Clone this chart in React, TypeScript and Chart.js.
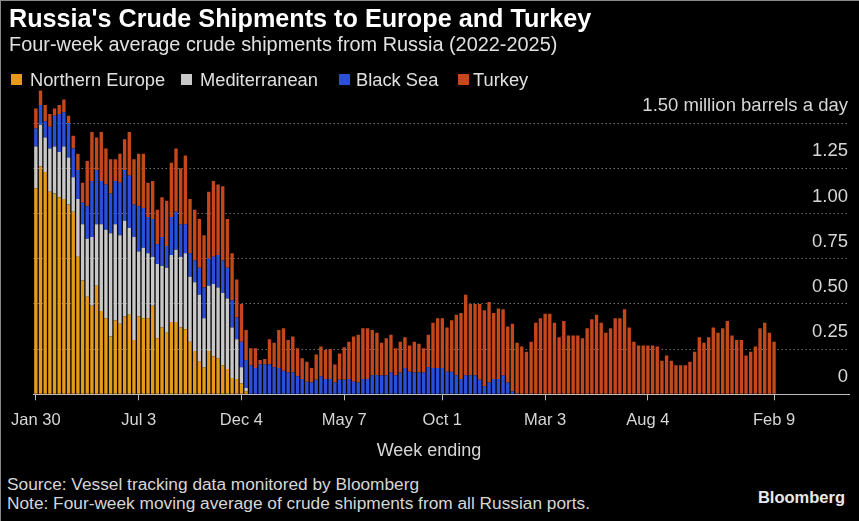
import { useEffect, useRef } from "react";
import { Chart, registerables } from "chart.js";

Chart.register(...registerables);

// Week index 0 = Jan 30 2022 ... 158 = Feb 9 2025 (weekly)
const tickIndices = [0, 22, 44, 66, 87, 109, 131, 158];
const tickLabels = ["Jan 30", "Jul 3", "Dec 4", "May 7", "Oct 1", "Mar 3", "Aug 4", "Feb 9"];
const yTickValues = [0, 0.25, 0.5, 0.75, 1.0, 1.25, 1.5];

const seriesNames = ["Northern Europe", "Mediterranean", "Black Sea", "Turkey"];
const seriesColors = ["#e69a1c", "#c8c8c8", "#2b4fd8", "#c4481c"];

// million barrels a day, four-week average
const northernEurope = [
  1.14, 1.26, 1.23, 1.12, 1.11, 1.09, 1.08, 1.05, 1.01, 0.76,
  0.63, 0.54, 0.49, 0.60, 0.46, 0.42, 0.32, 0.41, 0.39, 0.43,
  0.44, 0.30, 0.43, 0.42, 0.42, 0.49, 0.31, 0.37, 0.34, 0.40,
  0.40, 0.37, 0.36, 0.29, 0.24, 0.18, 0.15, 0.24, 0.21, 0.20,
  0.16, 0.14, 0.09, 0.085, 0.06, 0.015, 0, 0, 0, 0,
  0, 0, 0, 0, 0, 0, 0, 0, 0, 0,
  0, 0, 0, 0, 0, 0, 0, 0, 0, 0,
  0, 0, 0, 0, 0, 0, 0, 0, 0, 0,
  0, 0, 0, 0, 0, 0, 0, 0, 0, 0,
  0, 0, 0, 0, 0, 0, 0, 0, 0, 0,
  0, 0, 0, 0, 0, 0, 0, 0, 0, 0,
  0, 0, 0, 0, 0, 0, 0, 0, 0, 0,
  0, 0, 0, 0, 0, 0, 0, 0, 0, 0,
  0, 0, 0, 0, 0, 0, 0, 0, 0, 0,
  0, 0, 0, 0, 0, 0, 0, 0, 0, 0,
  0, 0, 0, 0, 0, 0, 0, 0, 0,
];

const mediterranean = [
  0.23, 0.23, 0.19, 0.24, 0.26, 0.25, 0.29, 0.26, 0.19, 0.32,
  0.31, 0.32, 0.38, 0.34, 0.48, 0.49, 0.57, 0.53, 0.49, 0.53,
  0.48, 0.57, 0.36, 0.39, 0.36, 0.27, 0.41, 0.34, 0.36, 0.37,
  0.40, 0.39, 0.42, 0.36, 0.38, 0.37, 0.27, 0.36, 0.40, 0.39,
  0.40, 0.39, 0.28, 0.22, 0.09, 0.02, 0, 0, 0, 0,
  0, 0, 0, 0, 0, 0, 0, 0, 0, 0,
  0, 0, 0, 0, 0, 0, 0, 0, 0, 0,
  0, 0, 0, 0, 0, 0, 0, 0, 0, 0,
  0, 0, 0, 0, 0, 0, 0, 0, 0, 0,
  0, 0, 0, 0, 0, 0, 0, 0, 0, 0,
  0, 0, 0, 0, 0, 0, 0, 0, 0, 0,
  0, 0, 0, 0, 0, 0, 0, 0, 0, 0,
  0, 0, 0, 0, 0, 0, 0, 0, 0, 0,
  0, 0, 0, 0, 0, 0, 0, 0, 0, 0,
  0, 0, 0, 0, 0, 0, 0, 0, 0, 0,
  0, 0, 0, 0, 0, 0, 0, 0, 0,
];

const blackSea = [
  0.10, 0.11, 0.09, 0.12, 0.17, 0.21, 0.19, 0.19, 0.16, 0.16,
  0.12, 0.18, 0.31, 0.30, 0.24, 0.25, 0.22, 0.24, 0.29, 0.28,
  0.29, 0.18, 0.25, 0.22, 0.20, 0.21, 0.11, 0.16, 0.12, 0.21,
  0.21, 0.18, 0.16, 0.13, 0.12, 0.15, 0.17, 0.15, 0.15, 0.18,
  0.18, 0.17, 0.15, 0.12, 0.14, 0.155, 0.16, 0.145, 0.165, 0.165,
  0.165, 0.15, 0.145, 0.13, 0.12, 0.12, 0.10, 0.085, 0.07, 0.065,
  0.08, 0.10, 0.085, 0.085, 0.065, 0.08, 0.08, 0.085, 0.07, 0.065,
  0.085, 0.085, 0.105, 0.105, 0.105, 0.105, 0.12, 0.105, 0.12, 0.145,
  0.125, 0.12, 0.12, 0.12, 0.15, 0.145, 0.145, 0.145, 0.125, 0.125,
  0.105, 0.085, 0.105, 0.105, 0.105, 0.08, 0.045, 0.065, 0.085, 0.085,
  0.105, 0.065, 0.015, 0.005, 0, 0, 0, 0, 0, 0,
  0, 0, 0, 0, 0, 0, 0, 0, 0, 0,
  0, 0, 0, 0, 0, 0, 0, 0, 0, 0,
  0, 0, 0, 0, 0, 0, 0, 0, 0, 0,
  0, 0, 0, 0, 0, 0, 0, 0, 0, 0,
  0, 0, 0, 0, 0, 0, 0, 0, 0,
];

const turkey = [
  0.11, 0.08, 0.09, 0.07, 0.04, 0.05, 0.07, 0.04, 0.07, 0.09,
  0.11, 0.25, 0.27, 0.18, 0.27, 0.20, 0.19, 0.12, 0.16, 0.17,
  0.24, 0.25, 0.29, 0.30, 0.19, 0.21, 0.19, 0.22, 0.25, 0.30,
  0.35, 0.31, 0.38, 0.30, 0.28, 0.27, 0.29, 0.37, 0.42, 0.39,
  0.41, 0.27, 0.26, 0.21, 0.21, 0.165, 0.095, 0.11, 0.025, 0.03,
  0.14, 0.135, 0.21, 0.235, 0.18, 0.20, 0.155, 0.115, 0.11, 0.08,
  0.14, 0.165, 0.16, 0.165, 0.10, 0.145, 0.18, 0.205, 0.25, 0.265,
  0.28, 0.28, 0.25, 0.235, 0.18, 0.205, 0.21, 0.15, 0.17, 0.17,
  0.145, 0.17, 0.16, 0.135, 0.18, 0.25, 0.275, 0.275, 0.245, 0.285,
  0.335, 0.365, 0.445, 0.395, 0.395, 0.42, 0.42, 0.445, 0.365, 0.39,
  0.365, 0.31, 0.375, 0.28, 0.265, 0.235, 0.29, 0.395, 0.42, 0.445,
  0.445, 0.395, 0.315, 0.405, 0.325, 0.325, 0.325, 0.31, 0.365, 0.415,
  0.44, 0.395, 0.34, 0.365, 0.42, 0.42, 0.47, 0.37, 0.29, 0.27,
  0.27, 0.27, 0.27, 0.265, 0.185, 0.215, 0.185, 0.16, 0.16, 0.16,
  0.18, 0.235, 0.315, 0.285, 0.315, 0.37, 0.34, 0.365, 0.405, 0.325,
  0.30, 0.30, 0.215, 0.235, 0.265, 0.365, 0.395, 0.34, 0.29,
];

const FONT = "'Liberation Sans', Arial, sans-serif";

// legend item positions (square left x, text left x)
const legendSquareX = [10, 180, 338, 457];
const legendTextX = [29, 199, 355, 472];

export default function App() {
  const canvasRef = useRef<HTMLCanvasElement>(null);

  useEffect(() => {
    document.body.style.margin = "0";
    document.body.style.background = "#000";
    const series = [northernEurope, mediterranean, blackSea, turkey];
    const chart = new Chart(canvasRef.current as HTMLCanvasElement, {
      type: "bar",
      data: {
        datasets: series.map((arr, k) => ({
          label: seriesNames[k],
          data: arr.map((v, i) => ({ x: i, y: v })),
          backgroundColor: seriesColors[k],
          borderWidth: 0,
          categoryPercentage: 1,
          barPercentage: 0.72,
        })),
      },
      options: {
        animation: false,
        responsive: false,
        devicePixelRatio: 1,
        layout: { padding: { left: 27.65, right: 11, top: 85.9, bottom: 0.9 } },
        plugins: { legend: { display: false }, tooltip: { enabled: false } },
        scales: {
          x: {
            type: "linear",
            stacked: true,
            offset: false,
            min: -0.5,
            max: 174.04,
            afterBuildTicks: (scale: any) => {
              scale.ticks = tickIndices.map((v) => ({ value: v }));
            },
            ticks: {
              autoSkip: false,
              maxRotation: 0,
              color: "#d6d6d6",
              padding: 10,
              font: { family: FONT, size: 16.5 },
              callback: (value: any) => {
                const k = tickIndices.indexOf(Number(value));
                return k >= 0 ? tickLabels[k] : "";
              },
            },
            grid: {
              display: true,
              offset: false,
              drawOnChartArea: false,
              drawTicks: true,
              tickLength: 6,
              color: "#bdbdbd",
            },
            border: { display: true, color: "#bdbdbd", width: 1 },
          },
          y: {
            type: "linear",
            stacked: true,
            position: "right",
            min: 0,
            max: 1.7,
            afterBuildTicks: (scale: any) => {
              scale.ticks = yTickValues.map((v) => ({ value: v }));
            },
            ticks: {
              mirror: true,
              padding: -1,
              labelOffset: -17,
              color: "#d6d6d6",
              font: { family: FONT, size: 18.5 },
              callback: (value: any) => {
                const v = Number(value);
                if (v === 0) return "0";
                if (v === 1.5) return "1.50 million barrels a day";
                return v.toFixed(2);
              },
            },
            grid: {
              drawTicks: false,
              lineWidth: 1,
              color: (ctx: any) =>
                ctx.tick && ctx.tick.value === 0 ? "rgba(0,0,0,0)" : "#707070",
            },
            border: { display: false, dash: [1.5, 2.5] },
          },
        },
      },
    } as any);
    return () => chart.destroy();
  }, []);

  const legendItems = seriesNames.map((name, k) => (
    <div key={name}>
      <span
        style={{
          position: "absolute",
          left: legendSquareX[k],
          top: 73,
          width: 11,
          height: 11,
          background: seriesColors[k],
        }}
      />
      <span
        style={{
          position: "absolute",
          left: legendTextX[k],
          top: 68.5,
          fontSize: 18.3,
          lineHeight: "19px",
          color: "#e0e0e0",
          whiteSpace: "nowrap",
        }}
      >
        {name}
      </span>
    </div>
  ));

  return (
    <div
      style={{
        position: "fixed",
        left: 0,
        top: 0,
        width: 859,
        height: 521,
        background: "#000",
        boxSizing: "border-box",
        borderLeft: "1px solid #8a8a8a",
        borderTop: "1px solid #8a8a8a",
        overflow: "hidden",
        fontFamily: FONT,
      }}
    >
      <canvas
        ref={canvasRef}
        width={859}
        height={440}
        style={{ position: "absolute", left: 0, top: 0, width: 859, height: 440 }}
      />
      <div
        style={{
          position: "absolute",
          left: 8,
          top: 4.5,
          fontSize: 25.2,
          lineHeight: "25px",
          fontWeight: 700,
          color: "#ffffff",
          whiteSpace: "nowrap",
        }}
      >
        Russia's Crude Shipments to Europe and Turkey
      </div>
      <div
        style={{
          position: "absolute",
          left: 8,
          top: 33,
          fontSize: 19.9,
          lineHeight: "20px",
          color: "#e0e0e0",
          whiteSpace: "nowrap",
        }}
      >
        Four-week average crude shipments from Russia (2022-2025)
      </div>
      {legendItems}
      <div
        style={{
          position: "absolute",
          left: 428,
          top: 440,
          transform: "translateX(-50%)",
          fontSize: 18,
          lineHeight: "18px",
          color: "#d6d6d6",
          whiteSpace: "nowrap",
        }}
      >
        Week ending
      </div>
      <div
        style={{
          position: "absolute",
          left: 6,
          top: 474,
          fontSize: 17.3,
          lineHeight: "18.5px",
          color: "#d6d6d6",
          whiteSpace: "nowrap",
        }}
      >
        <div>Source: Vessel tracking data monitored by Bloomberg</div>
        <div>Note: Four-week moving average of crude shipments from all Russian ports.</div>
      </div>
      <div
        style={{
          position: "absolute",
          right: 14,
          top: 487,
          fontSize: 16.5,
          lineHeight: "18px",
          fontWeight: 700,
          color: "#e8e8e8",
          whiteSpace: "nowrap",
        }}
      >
        Bloomberg
      </div>
    </div>
  );
}
